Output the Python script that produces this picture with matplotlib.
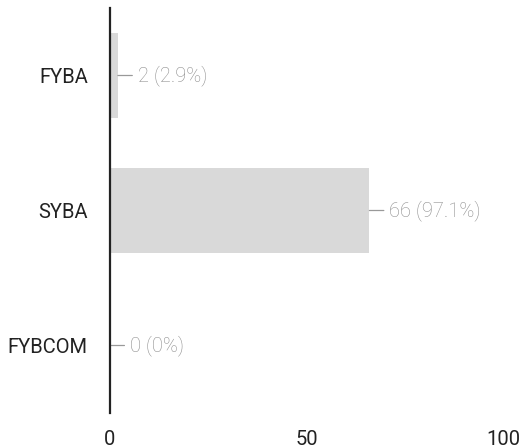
import matplotlib
matplotlib.use("Agg")
import matplotlib.pyplot as plt

categories = ["FYBA", "SYBA", "FYBCOM"]
values = [2, 66, 0]
x_ticks = [0, 50, 100]

plt.rcParams['font.family'] = ['Roboto', 'DejaVu Sans']

total = sum(values)
labels = [f"{v} ({round(v / total * 100, 1):g}%)" for v in values]

fig = plt.figure(figsize=(5.2, 4.48), dpi=100)
ax = fig.add_axes([110 / 520, 35 / 448, 393 / 520, 405 / 448])

ypos = list(range(len(categories)))
ax.barh(ypos, values, height=0.63, color="#d9d9d9", edgecolor="none", zorder=1)

for y, v, lab in zip(ypos, values, labels):
    ax.annotate(lab, xy=(v, y), xytext=(20, 0), textcoords="offset pixels",
                va="center", ha="left", fontsize=14.5, color="#8c8c8c",
                fontweight="light",
                arrowprops=dict(arrowstyle="-", color="#999999", lw=0.9,
                                shrinkA=2, shrinkB=0))

ax.set_xlim(0, 100)
ax.set_ylim(len(categories) - 0.5, -0.5)
ax.set_yticks(ypos)
ax.set_yticklabels(categories)
ax.set_xticks(x_ticks)
ax.set_xticklabels([str(t) for t in x_ticks])
ax.tick_params(axis="both", length=0, labelsize=14.5, colors="#222222")
ax.tick_params(axis="y", pad=16)
ax.tick_params(axis="x", pad=12)

for s in ["top", "right", "bottom"]:
    ax.spines[s].set_visible(False)
ax.spines["left"].set_color("#222222")
ax.spines["left"].set_linewidth(1.6)
ax.spines["left"].set_zorder(3)

fig.savefig("out.png", dpi=100)
